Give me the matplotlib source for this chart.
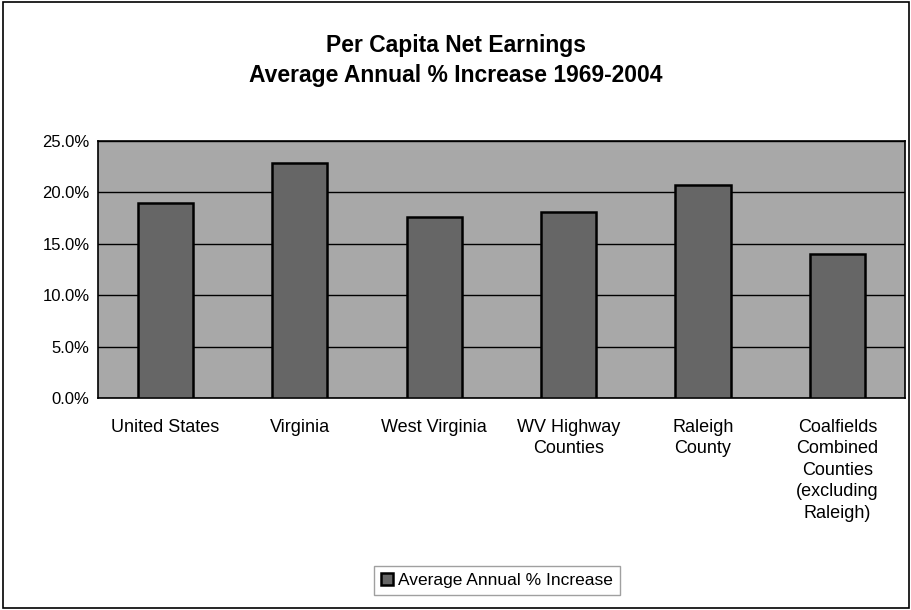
import matplotlib.pyplot as plt
import numpy as np

categories = ["United States", "Virginia", "West Virginia", "WV Highway\nCounties",
              "Raleigh\nCounty", "Coalfields\nCombined\nCounties\n(excluding\nRaleigh)"]
values = [19.0, 22.9, 17.6, 18.1, 20.7, 14.0]
yticks = [0, 5, 10, 15, 20, 25]

plt.rcParams["font.family"] = ["Liberation Sans", "DejaVu Sans"]

fig = plt.figure(figsize=(9.12, 6.10), dpi=100)
ax = fig.add_axes([0.1075, 0.3475, 0.8845, 0.4215])
ax.set_facecolor("#a8a8a8")

x = np.arange(len(categories))
ax.bar(x, values, width=0.41, color="#666666", edgecolor="black", linewidth=1.8,
       label="Average Annual % Increase", zorder=3)

ax.set_ylim(0, 25)
ax.set_xlim(-0.5, len(categories) - 0.5)
ax.set_yticks(yticks)
ax.set_yticklabels([f"{t:.1f}%" for t in yticks], fontsize=12)
ax.yaxis.grid(True, color="black", linewidth=1.0, zorder=1)
ax.set_axisbelow(True)
ax.tick_params(axis="y", length=0, pad=6)
ax.tick_params(axis="x", length=0, pad=15)
ax.set_xticks(x)
ax.set_xticklabels(categories, fontsize=13, va="top", linespacing=1.34)
for s in ax.spines.values():
    s.set_color("black")
    s.set_linewidth(1.2)

fig.text(0.5, 0.926, "Per Capita Net Earnings", ha="center", va="center",
         fontsize=16.5, fontweight="bold")
fig.text(0.5, 0.876, "Average Annual % Increase 1969-2004", ha="center", va="center",
         fontsize=16.5, fontweight="bold")

fig.legend(loc="center", bbox_to_anchor=(0.545, 0.049), fontsize=12.5, frameon=True,
           fancybox=False, edgecolor="#888888", handlelength=0.7, handleheight=0.7,
           handletextpad=0.3, borderpad=0.4)

border = plt.Rectangle((0.003, 0.003), 0.994, 0.994, transform=fig.transFigure,
                       fill=False, edgecolor="black", linewidth=1.2)
fig.patches.append(border)

fig.savefig("out.png", dpi=100)
